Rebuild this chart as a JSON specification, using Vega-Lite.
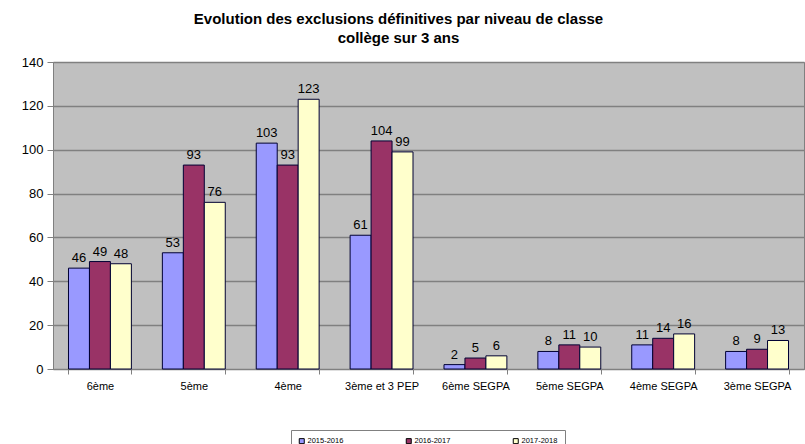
{
  "$schema": "https://vega.github.io/schema/vega-lite/v6.json",
  "width": 751,
  "height": 307,
  "autosize": {"type": "none"},
  "padding": {"left": 53, "top": 62, "right": 1, "bottom": 75},
  "background": "white",
  "title": {
    "text": ["Evolution des exclusions définitives par niveau de classe", "collège sur 3 ans"],
    "font": "Liberation Sans",
    "fontSize": 15,
    "fontWeight": "bold",
    "color": "#000000",
    "anchor": "middle",
    "dx": -30,
    "offset": 10,
    "lineHeight": 19
  },
  "data": {
    "values": [
      {"niveau": "6ème", "annee": "2015-2016", "valeur": 46},
      {"niveau": "6ème", "annee": "2016-2017", "valeur": 49},
      {"niveau": "6ème", "annee": "2017-2018", "valeur": 48},
      {"niveau": "5ème", "annee": "2015-2016", "valeur": 53},
      {"niveau": "5ème", "annee": "2016-2017", "valeur": 93},
      {"niveau": "5ème", "annee": "2017-2018", "valeur": 76},
      {"niveau": "4ème", "annee": "2015-2016", "valeur": 103},
      {"niveau": "4ème", "annee": "2016-2017", "valeur": 93},
      {"niveau": "4ème", "annee": "2017-2018", "valeur": 123},
      {"niveau": "3ème et 3 PEP", "annee": "2015-2016", "valeur": 61},
      {"niveau": "3ème et 3 PEP", "annee": "2016-2017", "valeur": 104},
      {"niveau": "3ème et 3 PEP", "annee": "2017-2018", "valeur": 99},
      {"niveau": "6ème SEGPA", "annee": "2015-2016", "valeur": 2},
      {"niveau": "6ème SEGPA", "annee": "2016-2017", "valeur": 5},
      {"niveau": "6ème SEGPA", "annee": "2017-2018", "valeur": 6},
      {"niveau": "5ème SEGPA", "annee": "2015-2016", "valeur": 8},
      {"niveau": "5ème SEGPA", "annee": "2016-2017", "valeur": 11},
      {"niveau": "5ème SEGPA", "annee": "2017-2018", "valeur": 10},
      {"niveau": "4ème SEGPA", "annee": "2015-2016", "valeur": 11},
      {"niveau": "4ème SEGPA", "annee": "2016-2017", "valeur": 14},
      {"niveau": "4ème SEGPA", "annee": "2017-2018", "valeur": 16},
      {"niveau": "3ème SEGPA", "annee": "2015-2016", "valeur": 8},
      {"niveau": "3ème SEGPA", "annee": "2016-2017", "valeur": 9},
      {"niveau": "3ème SEGPA", "annee": "2017-2018", "valeur": 13}
    ]
  },
  "encoding": {
    "x": {
      "field": "niveau",
      "type": "nominal",
      "sort": null,
      "scale": {"paddingInner": 0.33, "paddingOuter": 0.165},
      "axis": {
        "title": null,
        "labelAngle": 0,
        "labelFont": "Liberation Sans",
        "labelFontSize": 11,
        "labelColor": "#000000",
        "labelPadding": 6,
        "tickBand": "extent",
        "tickColor": "#808080",
        "tickSize": 5,
        "domainColor": "#808080",
        "grid": false
      }
    },
    "xOffset": {"field": "annee", "type": "nominal", "scale": {"paddingInner": 0, "paddingOuter": 0}},
    "y": {
      "field": "valeur",
      "type": "quantitative",
      "scale": {"domain": [0, 140], "nice": false},
      "axis": {
        "title": null,
        "values": [0, 20, 40, 60, 80, 100, 120, 140],
        "labelFont": "Liberation Sans",
        "labelFontSize": 13,
        "labelColor": "#000000",
        "labelPadding": 4,
        "tickColor": "#808080",
        "tickSize": 6,
        "domainColor": "#808080",
        "gridColor": "#808080",
        "gridWidth": 1.5,
        "gridOpacity": 1
      }
    }
  },
  "layer": [
    {
      "mark": {"type": "bar", "stroke": "#000033", "strokeWidth": 1},
      "encoding": {
        "color": {
          "field": "annee",
          "type": "nominal",
          "scale": {"domain": ["2015-2016", "2016-2017", "2017-2018"], "range": ["#9999ff", "#993366", "#ffffcc"]},
          "legend": {
            "title": null,
            "orient": "none",
            "legendX": 238,
            "legendY": 368,
            "direction": "horizontal",
            "columns": 3,
            "columnPadding": 60,
            "symbolType": "square",
            "symbolSize": 25,
            "symbolStrokeColor": "#000000",
            "symbolStrokeWidth": 1,
            "symbolOffset": 0,
            "labelFont": "Liberation Sans",
            "labelFontSize": 7.5,
            "labelColor": "#000000",
            "labelOffset": 2,
            "padding": 7,
            "strokeColor": "#808080",
            "fillColor": "#ffffff"
          }
        }
      }
    },
    {
      "mark": {"type": "text", "baseline": "bottom", "dy": -3, "font": "Liberation Sans", "fontSize": 13, "color": "#000000"},
      "encoding": {"text": {"field": "valeur", "type": "quantitative"}}
    }
  ],
  "config": {
    "view": {"fill": "#c0c0c0", "stroke": "#808080"}
  }
}
